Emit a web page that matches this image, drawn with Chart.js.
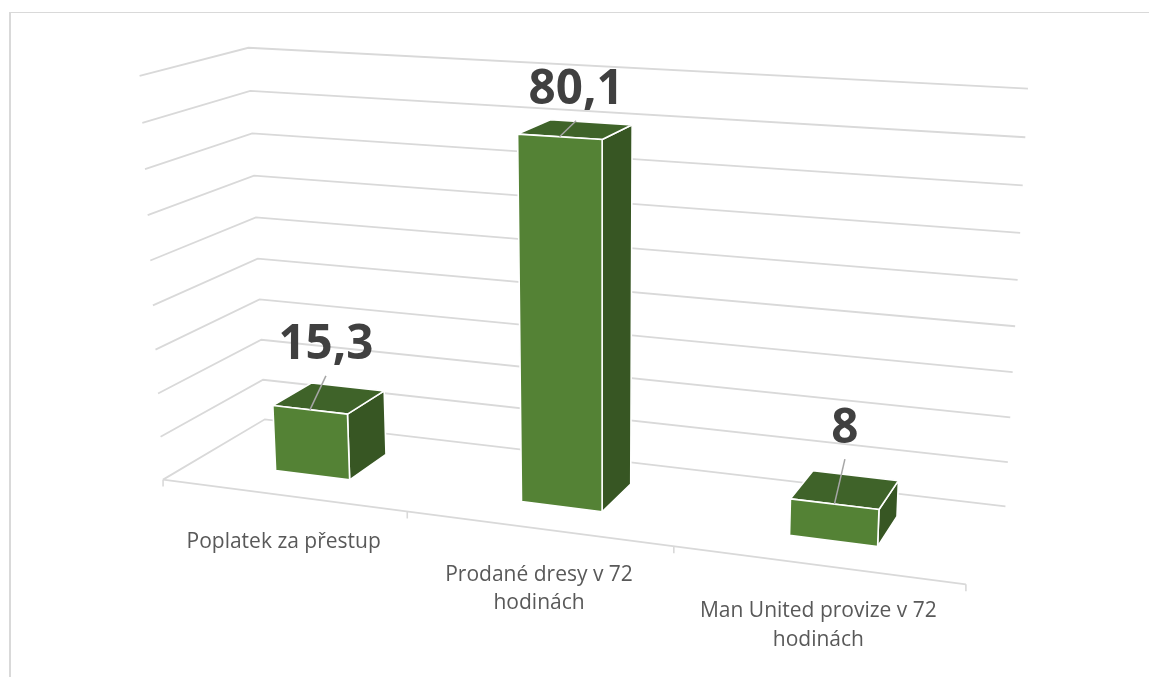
<!DOCTYPE html>
<html>
<head>
<meta charset="utf-8">
<script src="https://cdn.jsdelivr.net/npm/chart.js@4"></script>
<style>
  body { margin: 0; background: #fff; }
  canvas { display: block; }
</style>
</head>
<body>
<canvas id="chart" width="1149" height="677"></canvas>
<script>
// ===== DATA =====
const categories = [["Poplatek za přestup"], ["Prodané dresy v 72", "hodinách"], ["Man United provize v 72", "hodinách"]];
const values = [15.3, 80.1, 8];
const valueLabels = ["15,3", "80,1", "8"];

// ===== LOOK =====
const gridColor = "#d9d9d9";
const frontColor = "#548235";
const topColor = "#3f6329";
const sideColor = "#375623";
const labelColor = "#404040";
const tickLabelColor = "#595959";
const leaderColor = "#a6a6a6";
const barDepth = [0.3, 0.7];
const labelShift = [[16, -64], [16.5, -46], [10.5, -75]];

// ===== CAMERA =====
// the plot box [along, depth, height] and where its corners land on the page
const camera = [
  [0, 0, 0, 163, 480], [1, 0, 0, 966, 584], [0, 1, 0, 265, 419], [1, 1, 0, 1005.3, 506.7],
  [0, 0, 1, 140, 76], [0, 1, 1, 248, 47.7], [1, 1, 1, 1028, 88.5],
  [0, 0, 4 / 9, 152.5, 305], [0, 1, 4 / 9, 258, 258.7]
];

function solveCamera(points) {
  const rows = [], rhs = [];
  points.forEach(([u, d, v, X, Y]) => {
    rows.push([u, d, v, 1, 0, 0, 0, 0, -X * u, -X * d, -X * v]); rhs.push(X);
    rows.push([0, 0, 0, 0, u, d, v, 1, -Y * u, -Y * d, -Y * v]); rhs.push(Y);
  });
  const n = 11;
  const A = [];
  for (let i = 0; i < n; i++) {
    A.push([]);
    for (let j = 0; j <= n; j++) {
      let s = 0;
      rows.forEach((r, k) => { s += r[i] * (j === n ? rhs[k] : r[j]); });
      A[i].push(s);
    }
  }
  for (let i = 0; i < n; i++) {
    let p = i;
    for (let k = i + 1; k < n; k++) if (Math.abs(A[k][i]) > Math.abs(A[p][i])) p = k;
    [A[i], A[p]] = [A[p], A[i]];
    for (let k = 0; k < n; k++) {
      if (k === i) continue;
      const f = A[k][i] / A[i][i];
      for (let j = i; j <= n; j++) A[k][j] -= f * A[i][j];
    }
  }
  return A.map((r, i) => r[n] / r[i]);
}
const m = solveCamera(camera);

function project(u, d, v) {
  const w = m[8] * u + m[9] * d + m[10] * v + 1;
  return [(m[0] * u + m[1] * d + m[2] * v + m[3]) / w, (m[4] * u + m[5] * d + m[6] * v + m[7]) / w];
}

function line(ctx, pts, color, width) {
  ctx.strokeStyle = color;
  ctx.lineWidth = width;
  ctx.beginPath();
  pts.forEach((p, i) => i ? ctx.lineTo(p[0], p[1]) : ctx.moveTo(p[0], p[1]));
  ctx.stroke();
}

function face(ctx, pts, color) {
  ctx.fillStyle = color;
  ctx.beginPath();
  pts.forEach((p, i) => i ? ctx.lineTo(p[0], p[1]) : ctx.moveTo(p[0], p[1]));
  ctx.closePath();
  ctx.fill();
  ctx.strokeStyle = "#ffffff";
  ctx.lineWidth = 1.6;
  ctx.lineJoin = "round";
  ctx.stroke();
}

// ===== PERSPECTIVE BOX PLUGIN =====
const box3d = {
  id: "box3d",
  beforeDatasetsDraw(chart) {
    const { ctx, chartArea: area, scales: { x, y } } = chart;
    const toU = px => (px - area.left) / (area.right - area.left);
    const toV = px => (area.bottom - px) / (area.bottom - area.top);

    // frame
    ctx.save();
    ctx.fillStyle = gridColor;
    ctx.fillRect(9, 12, chart.width - 9, 1);
    ctx.fillRect(9, 12, 2, chart.height - 12);

    // gridlines on the side wall and the back wall
    y.ticks.forEach(t => {
      const v = toV(y.getPixelForValue(t.value));
      line(ctx, [project(0, 0, v), project(0, 1, v), project(1, 1, v)], gridColor, 1.8);
    });
    line(ctx, [project(0, 0, 0), project(1, 0, 0)], gridColor, 1.8);

    // category ticks on the front floor edge
    const step = (area.right - area.left) / categories.length;
    for (let i = 0; i <= categories.length; i++) {
      const p = project(toU(area.left + i * step), 0, 0);
      line(ctx, [p, [p[0], p[1] + 7]], gridColor, 1.6);
    }

    // category labels
    ctx.fillStyle = tickLabelColor;
    ctx.font = "21px 'Open Sans'";
    ctx.textAlign = "center";
    ctx.textBaseline = "middle";
    categories.forEach((lines, i) => {
      const a = project(toU(area.left + i * step), 0, 0);
      const b = project(toU(area.left + (i + 1) * step), 0, 0);
      lines.forEach((txt, k) => {
        ctx.fillText(txt, (a[0] + b[0]) / 2 - 1.5, (a[1] + b[1]) / 2 + 46 + k * 28.5);
      });
    });

    // bars
    const meta = chart.getDatasetMeta(0);
    meta.data.forEach((bar, i) => {
      const u0 = toU(bar.x - bar.width / 2), u1 = toU(bar.x + bar.width / 2);
      const v = toV(bar.y);
      const [d0, d1] = barDepth;
      face(ctx, [project(u1, d0, 0), project(u1, d1, 0), project(u1, d1, v), project(u1, d0, v)], sideColor);
      face(ctx, [project(u0, d0, v), project(u1, d0, v), project(u1, d1, v), project(u0, d1, v)], topColor);
      face(ctx, [project(u0, d0, 0), project(u1, d0, 0), project(u1, d0, v), project(u0, d0, v)], chart.data.datasets[0].backgroundColor);

      // leader line and value label
      const s = project((u0 + u1) / 2, d0, v);
      const lx = s[0] + labelShift[i][0], ly = s[1] + labelShift[i][1];
      line(ctx, [s, [lx, ly + 30]], leaderColor, 1.5);
      ctx.fillStyle = labelColor;
      ctx.font = "bold 47.5px 'Open Sans'";
      ctx.fillText(valueLabels[i], lx, ly);
    });
    ctx.restore();
    return false; // the flat bars are replaced by the boxes above
  }
};

// ===== CHART =====
new Chart(document.getElementById("chart"), {
  type: "bar",
  data: {
    labels: categories,
    datasets: [{ data: values, backgroundColor: frontColor, barPercentage: 0.31, categoryPercentage: 1 }]
  },
  options: {
    responsive: false,
    animation: false,
    plugins: { legend: { display: false }, tooltip: { enabled: false } },
    scales: {
      x: { display: false },
      y: { display: false, min: 0, max: 90, ticks: { stepSize: 10 } }
    }
  },
  plugins: [box3d]
});
</script>
</body>
</html>
